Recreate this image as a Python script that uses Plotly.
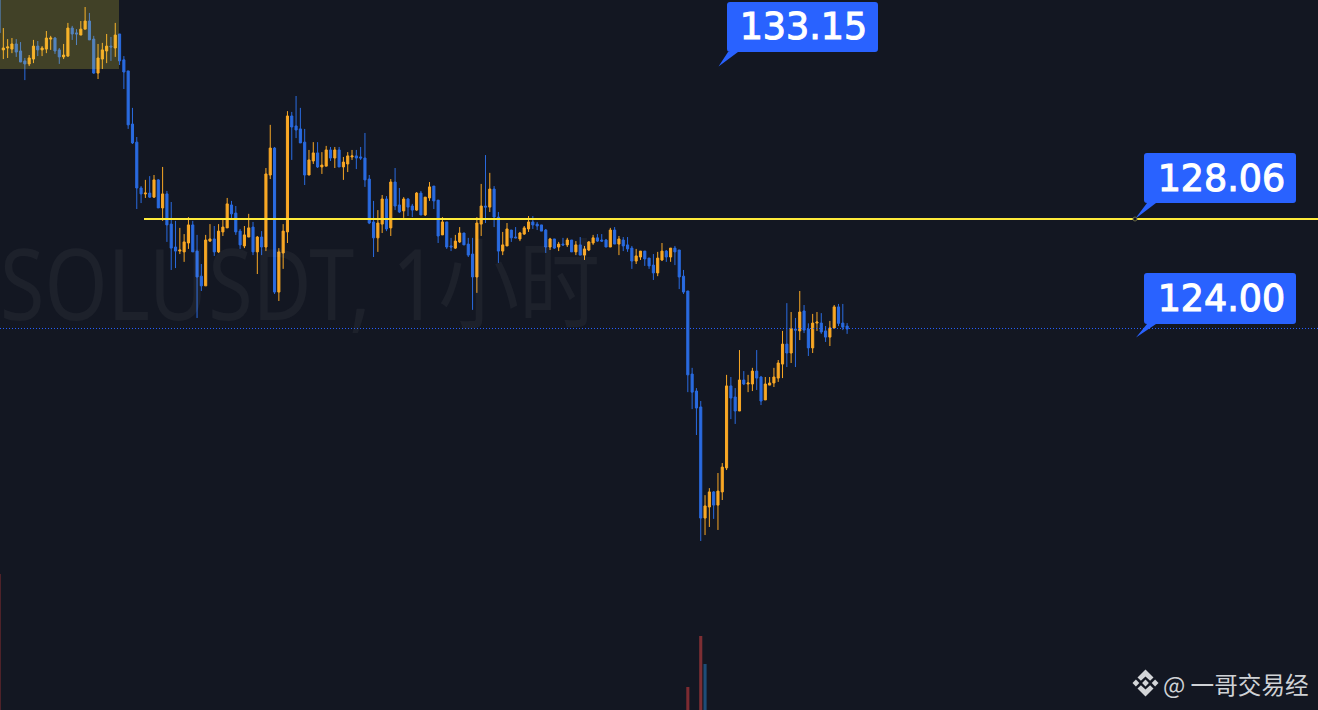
import plotly.graph_objects as go

candle_index = list(range(-1, 197))

opens = [136.30,
134.33,134.40,134.36,134.55,134.29,133.92,133.81,133.99,134.47,134.33,
134.36,134.73,134.77,134.33,134.07,134.10,135.14,134.96,134.88,135.10,
135.40,134.73,133.47,133.99,134.29,134.47,134.40,134.92,133.96,133.55,
131.58,130.91,129.21,128.99,129.02,128.87,129.51,128.47,128.99,127.87,
127.02,126.87,126.84,127.17,127.84,126.87,125.94,125.58,127.24,127.32,
126.84,127.58,127.73,128.58,128.28,127.61,127.06,127.39,127.76,126.84,
127.39,127.02,129.69,130.69,125.35,126.80,127.58,131.88,131.51,131.40,
130.91,129.69,130.21,130.51,129.99,130.02,130.62,130.32,130.62,129.99,
130.10,130.36,130.40,130.36,130.32,129.54,127.95,127.36,127.87,128.80,
127.73,129.43,128.58,128.36,128.80,128.54,128.39,129.02,128.21,128.84,
129.28,128.76,127.47,127.95,127.06,126.98,127.21,127.54,127.13,126.76,
125.91,127.87,128.54,128.50,129.17,128.13,126.87,127.06,127.65,127.39,
127.32,127.50,127.69,127.95,127.87,127.84,127.65,127.02,127.32,127.02,
127.13,127.10,127.28,126.84,127.10,126.72,126.91,127.17,127.36,127.28,
127.28,127.02,127.65,127.13,127.28,127.10,126.98,126.50,126.65,126.87,
126.61,126.35,126.06,126.54,126.87,126.65,126.98,126.91,125.94,125.39,
122.31,121.68,121.09,116.97,117.38,117.94,117.45,117.94,118.83,121.87,
121.46,120.94,122.09,121.94,121.94,122.42,122.20,121.35,121.90,121.98,
122.16,122.68,123.42,123.09,123.98,123.91,124.65,123.98,123.28,124.20,
124.20,123.91,123.68,124.02,124.80,124.20,124.09]

highs = [136.40,
135.14,134.73,134.77,134.73,134.62,134.03,134.14,134.70,134.66,134.47,
135.03,134.85,134.81,134.40,134.55,135.33,135.22,135.10,135.40,135.92,
135.70,134.85,134.55,134.59,134.92,134.81,135.33,134.92,134.10,133.55,
132.18,131.10,129.28,129.51,129.65,129.69,129.54,129.99,129.10,128.69,
127.99,127.73,127.50,128.13,127.99,127.47,126.39,127.47,127.87,127.80,
127.87,128.06,128.84,128.73,128.54,127.69,127.80,128.25,127.95,127.43,
127.61,129.95,131.55,130.73,126.98,127.87,132.06,132.03,132.62,132.18,
131.40,130.62,130.91,130.91,130.54,130.77,130.73,130.73,130.73,130.36,
130.54,130.62,130.62,130.73,131.25,129.69,128.73,128.39,128.95,128.91,
129.54,129.95,129.21,128.87,128.84,128.62,129.06,129.10,128.87,129.43,
129.28,128.76,128.13,127.95,127.36,127.47,127.76,127.54,127.36,127.36,
128.13,129.36,130.43,129.77,129.28,128.32,127.58,127.91,127.65,127.76,
127.58,127.80,128.17,128.17,127.95,127.84,127.69,127.36,127.32,127.21,
127.36,127.36,127.28,127.24,127.39,127.06,127.24,127.47,127.50,127.50,
127.32,127.73,127.76,127.43,127.39,127.39,127.06,126.95,126.87,126.87,
126.61,126.76,126.84,127.17,126.91,126.98,127.06,126.91,126.17,125.39,
122.54,121.79,121.31,117.82,118.08,117.97,118.64,119.01,122.28,122.20,
121.79,123.20,122.42,122.28,122.54,123.20,122.24,122.20,122.20,122.54,
122.83,123.91,124.94,124.61,124.39,125.39,124.87,124.19,124.54,124.61,
124.57,124.09,124.28,124.87,124.91,124.91,124.20]

lows = [134.92,
133.99,134.03,134.21,134.07,133.88,133.21,133.73,133.84,134.10,134.10,
134.21,134.33,134.18,133.81,133.99,134.07,134.70,134.51,134.88,135.10,
134.70,133.44,133.25,133.62,133.84,133.92,134.07,133.77,132.88,131.40,
130.84,128.43,128.65,128.84,128.84,128.84,128.47,127.99,127.21,126.17,
126.24,126.76,126.47,126.95,126.84,124.39,125.39,125.58,127.21,126.69,
126.80,127.43,127.73,128.10,127.47,126.95,126.98,127.39,126.72,126.02,
126.72,126.87,129.54,125.28,125.02,126.21,127.17,130.25,131.06,130.88,
129.32,129.69,130.10,129.95,129.73,130.02,130.21,129.95,129.99,129.51,
129.80,130.25,129.91,130.25,129.25,127.87,126.65,126.84,127.54,127.61,
127.43,128.39,128.28,128.10,128.17,128.13,128.36,128.21,128.17,128.73,
128.43,127.17,127.47,126.95,126.87,126.95,127.17,127.10,126.65,124.69,
125.32,127.43,127.91,128.32,127.76,126.43,126.72,127.06,127.21,127.36,
127.24,127.47,127.58,127.69,127.65,127.61,126.80,126.91,126.95,126.87,
127.06,127.02,126.84,126.72,126.72,126.54,126.87,127.10,127.21,127.21,
127.02,127.02,127.13,126.72,126.87,126.84,126.21,126.39,126.54,126.32,
126.21,125.80,125.94,126.50,126.47,126.47,126.35,125.46,125.28,121.64,
121.01,120.05,116.12,116.34,116.64,116.94,116.53,117.64,118.75,120.64,
120.46,120.94,121.90,121.64,121.68,121.72,121.16,121.35,121.90,121.83,
122.02,122.16,122.57,122.72,122.57,123.57,123.83,122.98,123.09,123.91,
123.80,123.50,123.35,123.98,124.09,123.94,123.80]

closes = [134.96,
134.40,134.44,134.55,134.25,133.88,133.81,134.03,134.47,134.33,134.40,
134.77,134.77,134.29,134.07,134.14,135.14,134.92,134.92,135.10,135.40,
134.70,133.47,134.03,134.33,134.47,134.44,134.88,133.92,133.51,131.55,
130.88,129.21,128.99,129.02,128.87,129.51,128.47,128.99,127.84,126.98,
126.87,126.91,127.21,127.84,126.84,125.91,125.58,127.28,127.32,126.84,
127.61,127.76,128.62,128.25,127.58,127.10,127.47,127.73,126.84,127.39,
127.02,129.73,130.69,125.35,126.84,127.61,131.88,131.47,131.36,130.88,
129.69,130.25,130.51,129.99,130.06,130.62,130.32,130.62,129.99,130.17,
130.40,130.40,130.32,130.32,129.51,127.91,127.36,127.91,128.80,127.69,
129.43,128.54,128.32,128.80,128.50,128.39,129.02,128.21,128.87,129.25,
128.73,127.43,127.95,127.02,127.02,127.24,127.54,127.10,126.72,125.91,
127.91,128.54,128.50,129.17,128.13,126.87,127.10,127.69,127.36,127.36,
127.54,127.73,127.95,127.84,127.80,127.61,127.02,127.32,126.98,127.13,
127.10,127.28,126.84,127.10,126.72,126.95,127.21,127.36,127.24,127.24,
127.02,127.65,127.13,127.32,127.06,126.95,126.50,126.69,126.87,126.58,
126.32,126.06,126.61,126.87,126.65,126.98,126.84,125.91,125.35,122.28,
121.64,121.05,116.97,117.42,117.94,117.45,117.97,118.86,121.87,121.42,
120.94,122.09,121.94,121.98,122.42,122.16,121.31,121.94,121.98,122.20,
122.72,123.42,123.09,123.98,123.94,124.61,123.94,123.28,124.20,124.24,
123.87,123.68,124.02,124.80,124.19,124.05,123.98]

volume_index = [-1, 159, 162, 163]
volume_values = [13600, 2300, 7400, 4600]
volume_colors = ["#7d2b31", "#7d2b31", "#7d2e33", "#1d4d78"]

level_line = 128.06
current_price = 124.00
callout_texts = ["133.15", "128.06", "124.00"]
watermark_text = "SOLUSDT, 1小时"
author_text = "@ 一哥交易经"

W, H = 1318, 710
BG = "#131722"
BLUE = "#2962ff"
ORANGE = "#f9a825"
CANDLE_BLUE = "#2a6be0"


def px_x(p):
    return (p - 3.33) / 4.305


def px_y(p):
    return 136.18 - p * 0.03708


fig = go.Figure()
fig.add_trace(go.Bar(x=volume_index, y=volume_values, width=0.72, marker=dict(color=volume_colors, line=dict(width=0)),
                     yaxis="y2", hoverinfo="skip"))
fig.add_trace(go.Candlestick(
    x=candle_index, open=opens, high=highs, low=lows, close=closes,
    increasing=dict(line=dict(color=ORANGE, width=1), fillcolor=ORANGE),
    decreasing=dict(line=dict(color=CANDLE_BLUE, width=1), fillcolor=CANDLE_BLUE),
    whiskerwidth=0, hoverinfo="skip"))


def anchored(path, fill, **kw):
    return dict(type="path", xref="paper", yref="paper", xsizemode="pixel", ysizemode="pixel",
                xanchor=0, yanchor=1, path=path, fillcolor=fill, line=dict(width=0), layer="above", **kw)


def callout(x0, x1, y0, y1, b0, b1, tipx, tipy, r=3):
    p = [f"M{x0+r} {-y0}", f"L{x1-r} {-y0}", f"Q{x1} {-y0} {x1} {-y0-r}", f"L{x1} {-y1+r}",
         f"Q{x1} {-y1} {x1-r} {-y1}", f"L{b1} {-y1}", f"L{tipx} {-tipy}", f"L{b0} {-y1}",
         f"L{x0+r} {-y1}", f"Q{x0} {-y1} {x0} {-y1+r}", f"L{x0} {-y0-r}", f"Q{x0} {-y0} {x0+r} {-y0}", "Z"]
    return anchored(" ".join(p), BLUE)


def diamond(cx, cy, r):
    return f"M{cx-r} {-cy} L{cx} {-cy+r} L{cx+r} {-cy} L{cx} {-cy-r} Z"


def chevron(cx, cy, d):
    return (f"M{cx} {-cy+d*13.5} L{cx+8} {-cy+d*5.5} L{cx+4.6} {-cy+d*2.2} L{cx} {-cy+d*6.6} "
            f"L{cx-4.6} {-cy+d*2.2} L{cx-8} {-cy+d*5.5} Z")


LOGO = "#d3d5d8"
lx, ly = 1145.5, 683
shapes = [
    dict(type="rect", xref="x", yref="y", x0=px_x(-10), x1=px_x(119), y0=px_y(69), y1=px_y(-10),
         fillcolor="rgba(240,222,60,0.21)", line=dict(width=0), layer="above"),
    dict(type="line", xref="x", yref="y", x0=px_x(144), x1=px_x(1330), y0=level_line, y1=level_line,
         line=dict(color="#ffeb3b", width=2), layer="above"),
    dict(type="line", xref="paper", yref="y", x0=0, x1=1, y0=current_price, y1=current_price,
         line=dict(color=BLUE, width=1, dash="1px,2px"), layer="above"),
    callout(727, 878, 2, 52, 728, 738, 718.5, 66.5),
    callout(1144, 1296, 153, 203, 1147, 1156, 1135, 219),
    callout(1144, 1296, 273, 324, 1147, 1156, 1136, 337.5),
    anchored(diamond(lx, ly, 3.4), LOGO),
    anchored(diamond(lx - 9.6, ly, 3.4), LOGO),
    anchored(diamond(lx + 9.6, ly, 3.4), LOGO),
    anchored(chevron(lx, ly, 1), LOGO),
    anchored(chevron(lx, ly, -1), LOGO),
    dict(type="circle", xref="paper", yref="paper", xsizemode="pixel", ysizemode="pixel", xanchor=0, yanchor=1,
         x0=1133, x1=1137, y0=-217, y1=-221, fillcolor=BG, line=dict(color="#6b6a45", width=1), layer="above"),
]

annotations = [
    dict(text=watermark_text, xref="paper", yref="paper", x=-2 / W, y=1 - 282 / H, xanchor="left", yanchor="middle",
         showarrow=False, font=dict(family="Noto Sans, Noto Sans CJK SC", size=98, color="rgba(255,255,255,0.045)")),
    dict(text=author_text, xref="paper", yref="paper", x=1311 / W, y=1 - 684 / H, xanchor="right", yanchor="middle",
         showarrow=False, font=dict(family="Noto Sans CJK SC", size=23.6, color="#cfd2d6")),
]
for txt, cx, cy in zip(callout_texts, [803, 1221, 1221], [26.5, 177.5, 297.5]):
    annotations.append(dict(text=txt, xref="paper", yref="paper", x=cx / W, y=1 - cy / H, xanchor="center",
                            yanchor="middle", showarrow=False,
                            font=dict(family="DejaVu Sans", size=38, color="#ffffff")))

fig.update_layout(
    width=W, height=H, autosize=False, margin=dict(l=0, r=0, t=0, b=0),
    paper_bgcolor=BG, plot_bgcolor=BG, showlegend=False, boxgap=0.3, dragmode=False,
    xaxis=dict(visible=False, range=[px_x(0), px_x(W)], rangeslider=dict(visible=False), fixedrange=True),
    yaxis=dict(visible=False, range=[px_y(H), px_y(0)], fixedrange=True),
    yaxis2=dict(visible=False, range=[0, 71000], overlaying="y", fixedrange=True),
    shapes=shapes, annotations=annotations,
)

POST = """
document.documentElement.style.background = '#131722';
document.body.style.margin = '0';
document.body.style.overflow = 'hidden';
document.body.style.background = '#131722';
var squeeze = [0.825, 1, 0.96, 0.96, 0.96];
var origin = ['left center', 'center', 'center', 'center', 'center'];
document.querySelectorAll('.annotation text').forEach(function (t, i) {
  t.style.transformBox = 'fill-box';
  t.style.transformOrigin = origin[i];
  t.style.transform = 'scaleX(' + squeeze[i] + ')';
  if (i > 1) { t.style.stroke = '#ffffff'; t.style.strokeWidth = '1.1px'; }
});
"""
fig.write_html("out.html", config=dict(displayModeBar=False), post_script=POST)
